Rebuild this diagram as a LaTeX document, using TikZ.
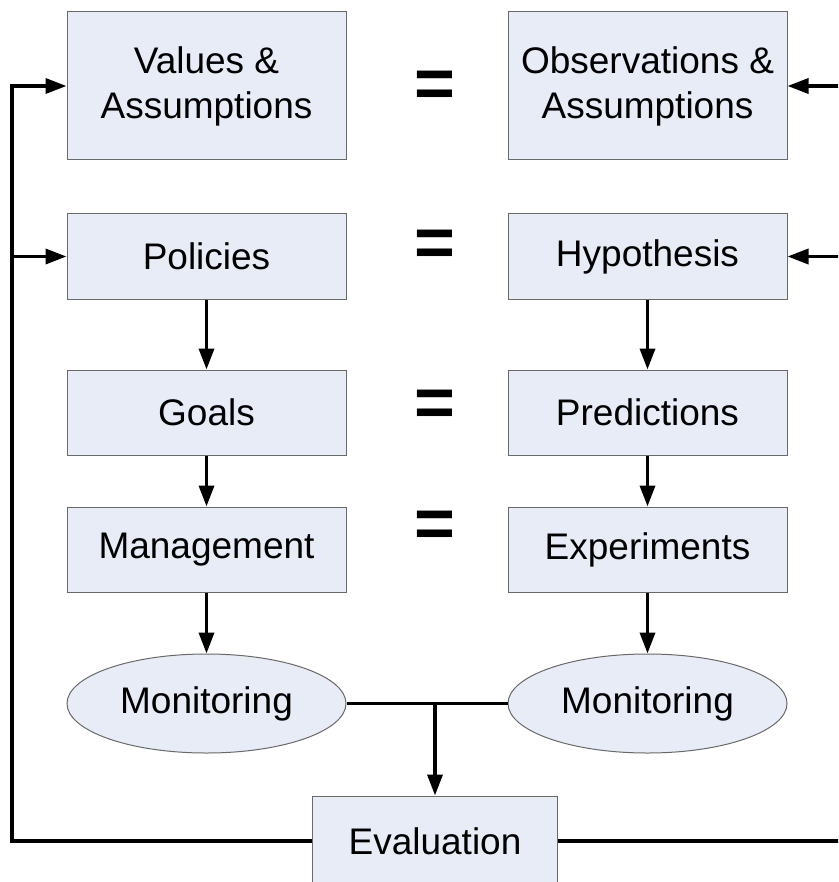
\documentclass[tikz,border=0pt]{standalone}
\usepackage{fontspec}
\setmainfont{Liberation Sans}
\usetikzlibrary{positioning,shapes.geometric,arrows.meta,calc}
\definecolor{boxfill}{RGB}{232,236,246}
\definecolor{boxline}{RGB}{105,105,105}

\begin{document}
\begin{tikzpicture}[x=1pt,y=1pt,
  box/.style={rectangle, draw=boxline, line width=1pt, fill=boxfill, minimum width=279pt, minimum height=85pt, align=center, inner sep=0pt, font=\fontsize{37}{45}\selectfont},
  oval/.style={box, ellipse, minimum height=99pt},
  eqsign/.style={font=\fontsize{70}{70}\selectfont\bfseries, inner sep=0pt, xshift=7.5pt},
  link/.style={line width=3.5pt},
  arrow/.style={link, -{Triangle[length=21pt,width=15pt]}}]
\useasboundingbox (0,0) rectangle (838,-882);
\clip (0,0) rectangle (838,-882);

% left column
\node (values) [box, minimum height=148pt] at (206.5,-86) {Values \&\\Assumptions};
\node (policies) [box, below=53pt of values] {Policies};
\node (goals) [box, below=70pt of policies] {Goals};
\node (mgmt) [box, below=51pt of goals] {Management};
\node (monleft) [oval, below=61pt of mgmt] {Monitoring};

% right column
\node (obs) [box, minimum height=148pt, right=161pt of values] {Observations \&\\Assumptions};
\node (hypo) [box, right=161pt of policies] {Hypothesis};
\node (pred) [box, right=161pt of goals] {Predictions};
\node (exper) [box, right=161pt of mgmt] {Experiments};
\node (monright) [oval, right=161pt of monleft] {Monitoring};

% equal signs
\node (eq1) [eqsign, yshift=-3.8pt] at ($(values.east)!0.5!(obs.west)$) {=};
\node (eq2) [eqsign, yshift=8.2pt] at ($(policies.east)!0.5!(hypo.west)$) {=};
\node (eq3) [eqsign, yshift=4.2pt] at ($(goals.east)!0.5!(pred.west)$) {=};
\node (eq4) [eqsign, yshift=20.2pt] at ($(mgmt.east)!0.5!(exper.west)$) {=};

% bottom
\node (eval) [box, minimum width=245pt, minimum height=90pt] at (435,-841) {Evaluation};
\coordinate (split) at (eval.north |- monleft.east);
\coordinate (lrail) at (12,0);
\coordinate (rrail) at (860,0);

\draw[arrow] (policies) -- (goals);
\draw[arrow] (goals) -- (mgmt);
\draw[arrow] (mgmt) -- (monleft);
\draw[arrow] (hypo) -- (pred);
\draw[arrow] (pred) -- (exper);
\draw[arrow] (exper) -- (monright);

\draw[link] (monleft.east) -- (monright.west);
\draw[arrow] (split) -- (eval);

% feedback loops
\draw[arrow] (eval.west) -| (lrail |- values.west) -- (values.west);
\draw[arrow] (lrail |- policies.west) -- (policies.west);
\draw[arrow] (eval.east) -| (rrail |- obs.east) -- (obs.east);
\draw[arrow] (rrail |- hypo.east) -- (hypo.east);

\end{tikzpicture}
\end{document}
